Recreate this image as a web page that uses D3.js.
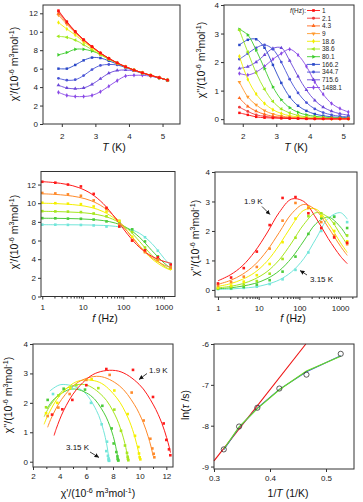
<!DOCTYPE html>
<html>
<head>
<meta charset="utf-8">
<script src="https://cdn.jsdelivr.net/npm/d3@7"></script>
<style>
  body { margin: 0; background: #fff; }
  svg { display: block; font-family: "Liberation Sans", Arial, sans-serif; }
</style>
</head>
<body>
<svg id="chart" width="363" height="502"></svg>
<script>
// ac susceptibility, top panels: one series per frequency
var freqs = [1, 2.1, 4.3, 9, 18.6, 38.6, 80.1, 166.2, 344.7, 715.6, 1488.1];
var freqColors = ['#ff1010', '#f03a3a', '#ff6a1f', '#ff9a2e', '#f2ee00', '#9ee81a',
                  '#3ccc2c', '#2a48c8', '#4a55d6', '#6a46d8', '#8a4ae6'];
var temps = [1.9, 2.15, 2.4, 2.65, 2.9, 3.15, 3.4, 3.65, 3.9, 4.15, 4.4, 4.65, 4.9, 5.15];

var chiRealT = [
  [12.3, 11.1, 10.05, 9.15, 8.4, 7.7, 7.12, 6.62, 6.2, 5.85, 5.55, 5.27, 5.02, 4.76],
  [12.2, 11.05, 10.0, 9.12, 8.38, 7.7, 7.12, 6.62, 6.2, 5.85, 5.55, 5.27, 5.02, 4.76],
  [12.0, 10.95, 9.95, 9.1, 8.35, 7.68, 7.1, 6.62, 6.2, 5.85, 5.55, 5.27, 5.02, 4.76],
  [11.8, 10.8, 9.9, 9.05, 8.33, 7.67, 7.1, 6.6, 6.2, 5.85, 5.55, 5.27, 5.02, 4.76],
  [11.0, 10.3, 9.65, 8.9, 8.25, 7.62, 7.08, 6.6, 6.2, 5.85, 5.55, 5.27, 5.02, 4.76],
  [9.5, 9.4, 9.1, 8.6, 8.05, 7.5, 7.0, 6.58, 6.18, 5.84, 5.54, 5.26, 5.01, 4.75],
  [7.5, 7.75, 8.1, 8.1, 7.9, 7.55, 7.05, 6.6, 6.18, 5.84, 5.54, 5.26, 5.01, 4.75],
  [6.0, 6.0, 6.4, 6.9, 7.2, 7.15, 6.85, 6.5, 6.15, 5.83, 5.53, 5.25, 5.0, 4.75],
  [4.95, 4.75, 4.8, 5.25, 5.9, 6.35, 6.45, 6.4, 6.12, 5.82, 5.52, 5.25, 5.0, 4.75],
  [4.2, 3.9, 3.82, 3.9, 4.3, 4.9, 5.5, 5.8, 5.85, 5.75, 5.5, 5.25, 5.0, 4.75],
  [3.43, 3.1, 2.98, 2.98, 3.1, 3.5, 4.1, 4.7, 5.2, 5.28, 5.28, 5.18, 5.0, 4.76]
];

var chiImagT = [
  [0.22, 0.15, 0.08, 0.05, 0.04, 0.03, 0.02, 0.02, 0.01, 0.01, 0.01, 0.01, 0.01, 0.01],
  [0.42, 0.27, 0.15, 0.1, 0.06, 0.04, 0.03, 0.02, 0.02, 0.01, 0.01, 0.01, 0.01, 0.01],
  [0.74, 0.45, 0.28, 0.17, 0.1, 0.07, 0.05, 0.03, 0.02, 0.02, 0.01, 0.01, 0.01, 0.01],
  [1.3, 0.78, 0.5, 0.3, 0.18, 0.11, 0.07, 0.05, 0.03, 0.02, 0.02, 0.01, 0.01, 0.01],
  [2.2, 1.4, 0.88, 0.55, 0.33, 0.2, 0.12, 0.08, 0.05, 0.04, 0.03, 0.02, 0.02, 0.02],
  [3.12, 2.35, 1.62, 1.05, 0.62, 0.36, 0.22, 0.13, 0.08, 0.06, 0.04, 0.03, 0.03, 0.02],
  [3.15, 2.95, 2.42, 1.77, 1.13, 0.68, 0.4, 0.24, 0.15, 0.1, 0.07, 0.05, 0.04, 0.03],
  [2.6, 2.78, 2.8, 2.5, 1.9, 1.27, 0.78, 0.47, 0.29, 0.18, 0.12, 0.08, 0.06, 0.05],
  [2.1, 2.3, 2.5, 2.6, 2.45, 2.0, 1.4, 0.92, 0.58, 0.36, 0.23, 0.15, 0.1, 0.08],
  [1.78, 1.84, 2.0, 2.25, 2.48, 2.5, 2.05, 1.5, 1.02, 0.66, 0.42, 0.28, 0.19, 0.14],
  [1.6, 1.55, 1.65, 1.85, 2.1, 2.3, 2.45, 2.25, 1.85, 1.3, 0.87, 0.55, 0.37, 0.25]
];

// lower panels: the six lowest temperatures (same measured points) + fitted curves
var fitTemps = [1.9, 2.15, 2.4, 2.65, 2.9, 3.15];
var tempColors = ['#ff1a1a', '#ff8a2a', '#f5f000', '#a6e61e', '#4ccc3a', '#72e6da'];
var fitFreqs = [1, 2, 4, 8, 16, 32, 64, 128, 256, 512, 1024, 1500];
var fitChiReal = [
  [12.31, 12.21, 12.02, 11.67, 11.03, 9.96, 8.40, 6.67, 5.24, 4.30, 3.76, 3.58],
  [11.01, 10.95, 10.84, 10.64, 10.27, 9.59, 8.48, 6.96, 5.38, 4.15, 3.37, 3.10],
  [10.00, 9.97, 9.90, 9.78, 9.55, 9.10, 8.28, 6.97, 5.39, 4.03, 3.14, 2.83],
  [9.13, 9.11, 9.07, 9.01, 8.89, 8.64, 8.15, 7.25, 5.88, 4.39, 3.25, 2.84],
  [8.39, 8.38, 8.36, 8.33, 8.26, 8.14, 7.87, 7.32, 6.32, 4.92, 3.59, 3.04],
  [7.70, 7.69, 7.69, 7.68, 7.66, 7.62, 7.52, 7.29, 6.76, 5.67, 4.09, 3.26]
];
var fitChiImag = [
  [0.31, 0.51, 0.82, 1.30, 1.93, 2.63, 3.08, 3.00, 2.44, 1.74, 1.14, 0.89],
  [0.19, 0.32, 0.53, 0.85, 1.33, 1.95, 2.58, 2.90, 2.70, 2.12, 1.48, 1.17],
  [0.12, 0.21, 0.36, 0.59, 0.97, 1.52, 2.17, 2.70, 2.74, 2.26, 1.60, 1.27],
  [0.07, 0.12, 0.21, 0.37, 0.62, 1.02, 1.59, 2.22, 2.62, 2.46, 1.88, 1.53],
  [0.04, 0.07, 0.13, 0.22, 0.38, 0.65, 1.08, 1.66, 2.25, 2.47, 2.13, 1.79],
  [0.02, 0.03, 0.06, 0.10, 0.19, 0.34, 0.61, 1.06, 1.74, 2.43, 2.62, 2.40]
];

// Arrhenius panel
var invT = [0.3175, 0.3448, 0.3774, 0.4167, 0.4651, 0.5263];
var lnTau = [-8.58, -8.02, -7.56, -7.09, -6.75, -6.24];
var arrhInvT = [0.3, 0.464];
var arrhLnTau = [-8.86, -6.0];
var fitLnTauBlue = [-8.59, -8.04, -7.57, -7.11, -6.68, -6.29];
var fitLnTauGreen = [-8.57, -8.03, -7.58, -7.12, -6.66, -6.30];

var svg = d3.select('#chart');
var AXIS = '#333';

// panel boxes (pixels)
var B1 = { l: 43, r: 180, t: 5, b: 124 };
var B2 = { l: 224, r: 354, t: 5, b: 124 };
var B3 = { l: 41, r: 175, t: 171.5, b: 296.5 };
var B4 = { l: 215, r: 357, t: 172, b: 297 };
var B5 = { l: 33, r: 173, t: 344, b: 467 };
var B6 = { l: 214, r: 354, t: 344, b: 469 };

var defs = svg.append('defs');
defs.append('marker')
  .attr('id', 'arrow')
  .attr('viewBox', '0 0 10 10')
  .attr('refX', 10).attr('refY', 5)
  .attr('markerWidth', 4.5).attr('markerHeight', 4.5)
  .attr('markerUnits', 'userSpaceOnUse')
  .attr('orient', 'auto')
  .append('path').attr('d', 'M0,0 L10,5 L0,10 z').attr('fill', '#111');

function frame(b) {
  svg.append('rect')
    .attr('x', b.l).attr('y', b.t)
    .attr('width', b.r - b.l).attr('height', b.b - b.t)
    .attr('fill', 'none').attr('stroke', AXIS).attr('stroke-width', 1);
}

function styleAxis(ax) {
  ax.select('.domain').remove();
  ax.attr('font-family', null).attr('font-size', null);
  ax.selectAll('line').attr('stroke', AXIS);
  ax.selectAll('text').attr('font-size', 8).attr('fill', '#222');
}

function xAxis(b, scale, major, minor, pad) {
  if (minor) {
    var mi = svg.append('g').attr('transform', 'translate(0,' + b.b + ')')
      .call(d3.axisBottom(scale).tickValues(minor).tickSize(2).tickFormat(''));
    styleAxis(mi);
  }
  var ax = svg.append('g').attr('transform', 'translate(0,' + b.b + ')')
    .call(d3.axisBottom(scale).tickValues(major).tickSize(3).tickPadding(pad)
      .tickFormat(function(d) { return String(d); }));
  styleAxis(ax);
}

function yAxis(b, scale, major) {
  var ax = svg.append('g').attr('transform', 'translate(' + b.l + ',0)')
    .call(d3.axisLeft(scale).tickValues(major).tickSize(3).tickPadding(2)
      .tickFormat(function(d) { return String(d); }));
  styleAxis(ax);
}

// text with italic / superscript pieces
function rich(sel, parts, size) {
  var up = false;
  parts.forEach(function(p) {
    var ts = sel.append('tspan').text(p.t);
    if (p.i) ts.attr('font-style', 'italic');
    if (p.s) {
      ts.attr('font-size', size * 0.68).attr('dy', -size * 0.4);
      up = true;
    } else if (up) {
      ts.attr('dy', size * 0.4);
      up = false;
    }
  });
}

function chiParts(prime) {
  return [{ t: '\u03c7' + prime + '/(10' }, { t: '-6', s: 1 }, { t: ' m' }, { t: '3', s: 1 },
          { t: 'mol' }, { t: '-1', s: 1 }, { t: ')' }];
}

function yTitle(cx, cy, parts) {
  var t = svg.append('text')
    .attr('transform', 'translate(' + cx + ',' + cy + ') rotate(-90)')
    .attr('text-anchor', 'middle').attr('font-size', 10.5).attr('fill', '#111');
  rich(t, parts, 10.5);
}

function xTitle(cx, y, parts) {
  var t = svg.append('text')
    .attr('x', cx).attr('y', y)
    .attr('text-anchor', 'middle').attr('font-size', 10.5).attr('fill', '#111');
  rich(t, parts, 10.5);
}

var shapes = [
  { s: d3.symbolSquare, r: 0 }, { s: d3.symbolCircle, r: 0 }, { s: d3.symbolTriangle, r: 0 },
  { s: d3.symbolTriangle, r: 180 }, { s: d3.symbolDiamond, r: 0 }, { s: d3.symbolTriangle, r: -90 },
  { s: d3.symbolTriangle, r: 90 }, { s: d3.symbolSquare, r: 0 }, { s: d3.symbolCircle, r: 0 },
  { s: d3.symbolTriangle, r: 0 }, { s: d3.symbolDiamond, r: 0 }
];

function mark(g, i, x, y, color, size) {
  g.append('path')
    .attr('d', d3.symbol().type(shapes[i].s).size(size)())
    .attr('transform', 'translate(' + x + ',' + y + ') rotate(' + shapes[i].r + ')')
    .attr('fill', color);
}

function logMinor(lo, hi) {
  var out = [];
  [1, 10, 100, 1000].forEach(function(d) {
    for (var k = 2; k <= 9; k++) if (d * k > lo && d * k < hi) out.push(d * k);
  });
  return out;
}

var smooth = d3.curveCatmullRom.alpha(0.5);

// ---------- panel 1: chi' vs T ----------
var x1 = d3.scaleLinear().domain([1.44, 5.52]).range([B1.l, B1.r]);
var y1 = d3.scaleLinear().domain([0, 12.9]).range([B1.b, B1.t]);
var g1 = svg.append('g');
for (var fi = freqs.length - 1; fi >= 0; fi--) {
  var pts1 = temps.map(function(t, ti) { return [x1(t), y1(chiRealT[fi][ti])]; });
  g1.append('path').attr('d', d3.line().curve(smooth)(pts1))
    .attr('fill', 'none').attr('stroke', freqColors[fi]).attr('stroke-width', 0.9);
  pts1.forEach(function(p) { mark(g1, fi, p[0], p[1], freqColors[fi], 6); });
}
frame(B1);
xAxis(B1, x1, [2, 3, 4, 5], null, 6);
yAxis(B1, y1, [0, 2, 4, 6, 8, 10, 12]);
yTitle(18, 64, chiParts("'"));
xTitle(114, 151, [{ t: 'T', i: 1 }, { t: ' (K)' }]);

// ---------- panel 2: chi'' vs T ----------
var x2 = d3.scaleLinear().domain([1.44, 5.32]).range([B2.l, B2.r]);
var y2 = d3.scaleLinear().domain([-0.17, 4.0]).range([B2.b, B2.t]);
var g2 = svg.append('g');
for (var fj = freqs.length - 1; fj >= 0; fj--) {
  var pts2 = temps.map(function(t, ti) { return [x2(t), y2(chiImagT[fj][ti])]; });
  g2.append('path').attr('d', d3.line().curve(smooth)(pts2))
    .attr('fill', 'none').attr('stroke', freqColors[fj]).attr('stroke-width', 0.9);
  pts2.forEach(function(p) { mark(g2, fj, p[0], p[1], freqColors[fj], 6); });
}
frame(B2);
xAxis(B2, x2, [2, 3, 4, 5], null, 6);
yAxis(B2, y2, [0, 1, 2, 3, 4]);
yTitle(205, 60, chiParts("''"));
xTitle(296, 151, [{ t: 'T', i: 1 }, { t: ' (K)' }]);

// legend
var lg = svg.append('g').attr('font-size', 6.5).attr('fill', '#222');
var lgHead = lg.append('text').attr('x', 306).attr('y', 12.8).attr('text-anchor', 'end');
rich(lgHead, [{ t: 'f', i: 1 }, { t: '(Hz):' }], 6.5);
freqs.forEach(function(f, i) {
  var ly = 10.5 + i * 7.7;
  lg.append('line').attr('x1', 307).attr('x2', 320).attr('y1', ly).attr('y2', ly)
    .attr('stroke', freqColors[i]).attr('stroke-width', 0.9);
  mark(lg, i, 313.5, ly, freqColors[i], 7);
  lg.append('text').attr('x', 322).attr('y', ly + 2.3).text(String(f));
});

// ---------- panel 3: chi' vs f ----------
var x3 = d3.scaleLog().domain([0.93, 1900]).range([B3.l, B3.r]);
var y3 = d3.scaleLinear().domain([0, 13.4]).range([B3.b, B3.t]);
var g3 = svg.append('g');
for (var a = fitTemps.length - 1; a >= 0; a--) {
  var fit3 = fitFreqs.map(function(f, k) { return [x3(f), y3(fitChiReal[a][k])]; });
  g3.append('path').attr('d', d3.line().curve(smooth)(fit3))
    .attr('fill', 'none').attr('stroke', tempColors[a]).attr('stroke-width', 1);
}
for (var a2 = fitTemps.length - 1; a2 >= 0; a2--) {
  freqs.forEach(function(f, k) {
    g3.append('rect').attr('x', x3(f) - 1.3).attr('y', y3(chiRealT[k][a2]) - 1.3)
      .attr('width', 2.6).attr('height', 2.6).attr('fill', tempColors[a2]);
  });
}
frame(B3);
xAxis(B3, x3, [1, 10, 100, 1000], logMinor(0.93, 1900), 5);
yAxis(B3, y3, [0, 2, 4, 6, 8, 10, 12]);
yTitle(18, 232, chiParts("'"));
xTitle(105, 322, [{ t: 'f', i: 1 }, { t: ' (Hz)' }]);

// ---------- panel 4: chi'' vs f ----------
var x4 = d3.scaleLog().domain([0.845, 2600]).range([B4.l, B4.r]);
var y4 = d3.scaleLinear().domain([-0.24, 4.0]).range([B4.b, B4.t]);
var g4 = svg.append('g');
for (var c = fitTemps.length - 1; c >= 0; c--) {
  var fit4 = fitFreqs.map(function(f, k) { return [x4(f), y4(fitChiImag[c][k])]; });
  g4.append('path').attr('d', d3.line().curve(smooth)(fit4))
    .attr('fill', 'none').attr('stroke', tempColors[c]).attr('stroke-width', 1);
}
for (var c2 = fitTemps.length - 1; c2 >= 0; c2--) {
  freqs.forEach(function(f, k) {
    g4.append('rect').attr('x', x4(f) - 1.3).attr('y', y4(chiImagT[k][c2]) - 1.3)
      .attr('width', 2.6).attr('height', 2.6).attr('fill', tempColors[c2]);
  });
}
frame(B4);
xAxis(B4, x4, [1, 10, 100, 1000], logMinor(0.845, 2600), 5);
yAxis(B4, y4, [0, 1, 2, 3, 4]);
yTitle(199, 238, chiParts("''"));
xTitle(293, 322, [{ t: 'f', i: 1 }, { t: ' (Hz)' }]);

function note(x, y, label, ax1, ay1, ax2, ay2) {
  svg.append('text').attr('x', x).attr('y', y).attr('font-size', 8).attr('fill', '#111').text(label);
  svg.append('line').attr('x1', ax1).attr('y1', ay1).attr('x2', ax2).attr('y2', ay2)
    .attr('stroke', '#111').attr('stroke-width', 0.8).attr('marker-end', 'url(#arrow)');
}
note(244, 203.5, '1.9 K', 262, 206.5, 270, 214.5);
note(310, 281.5, '3.15 K', 307, 275, 300, 270.5);

// ---------- panel 5: Cole-Cole ----------
var x5 = d3.scaleLinear().domain([2, 12.5]).range([B5.l, B5.r]);
var y5 = d3.scaleLinear().domain([-0.18, 4]).range([B5.b, B5.t]);
var g5 = svg.append('g');
for (var e = fitTemps.length - 1; e >= 0; e--) {
  var fit5 = fitFreqs.map(function(f, k) { return [x5(fitChiReal[e][k]), y5(fitChiImag[e][k])]; });
  g5.append('path').attr('d', d3.line().curve(smooth)(fit5))
    .attr('fill', 'none').attr('stroke', tempColors[e]).attr('stroke-width', 1);
}
for (var e2 = fitTemps.length - 1; e2 >= 0; e2--) {
  freqs.forEach(function(f, k) {
    g5.append('rect').attr('x', x5(chiRealT[k][e2]) - 1.3).attr('y', y5(chiImagT[k][e2]) - 1.3)
      .attr('width', 2.6).attr('height', 2.6).attr('fill', tempColors[e2]);
  });
}
frame(B5);
xAxis(B5, x5, [2, 4, 6, 8, 10, 12], [3, 5, 7, 9, 11], 3);
yAxis(B5, y5, [0, 1, 2, 3, 4]);
yTitle(12, 395, chiParts("''"));
xTitle(98, 497, chiParts("'"));
note(149, 372.5, '1.9 K', 147, 373.5, 139, 379.5);
note(66, 449.5, '3.15 K', 90, 452, 99, 457.5);

// ---------- panel 6: ln(tau) vs 1/T ----------
var x6 = d3.scaleLinear().domain([0.3, 0.55]).range([B6.l, B6.r]);
var y6 = d3.scaleLinear().domain([-9.06, -6]).range([B6.b, B6.t]);
var g6 = svg.append('g');
var lin = d3.line();
g6.append('path')
  .attr('d', lin(arrhInvT.map(function(v, i) { return [x6(v), y6(arrhLnTau[i])]; })))
  .attr('fill', 'none').attr('stroke', '#ee1111').attr('stroke-width', 1.1);
g6.append('path')
  .attr('d', lin(invT.map(function(v, i) { return [x6(v), y6(fitLnTauBlue[i])]; })))
  .attr('fill', 'none').attr('stroke', '#3355cc').attr('stroke-width', 1.1);
g6.append('path')
  .attr('d', lin(invT.map(function(v, i) { return [x6(v), y6(fitLnTauGreen[i])]; })))
  .attr('fill', 'none').attr('stroke', '#66dd22').attr('stroke-width', 1.1);
invT.forEach(function(v, i) {
  g6.append('circle').attr('cx', x6(v)).attr('cy', y6(lnTau[i])).attr('r', 2.6)
    .attr('fill', 'none').attr('stroke', '#333').attr('stroke-width', 0.8);
});
frame(B6);
xAxis(B6, x6, [0.3, 0.4, 0.5], null, 3);
yAxis(B6, y6, [-9, -8, -7, -6]);
yTitle(189, 405, [{ t: 'ln(' }, { t: '\u03c4', i: 1 }, { t: ' /s)' }]);
xTitle(288, 497, [{ t: '1/' }, { t: 'T', i: 1 }, { t: ' (1/K)' }]);
</script>
</body>
</html>
